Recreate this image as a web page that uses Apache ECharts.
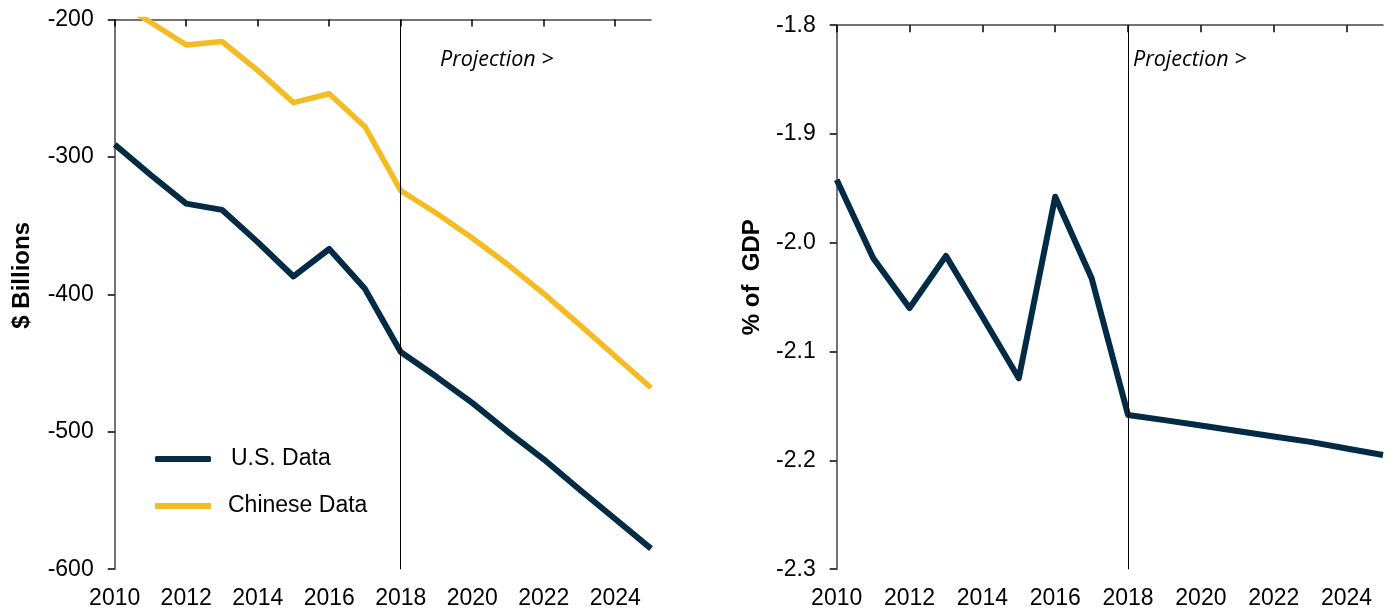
<!DOCTYPE html>
<html>
<head>
<meta charset="utf-8">
<script src="https://cdn.jsdelivr.net/npm/echarts@6/dist/echarts.min.js"></script>
<style>
html,body{margin:0;padding:0;background:#fff;}
#c{width:1395px;height:612px;}
</style>
</head>
<body>
<div id="c"></div>
<script>
// ---- data ----
var years = [2010,2011,2012,2013,2014,2015,2016,2017,2018,2019,2020,2021,2022,2023,2024,2025];
var tickYears = [2010,2012,2014,2016,2018,2020,2022,2024];
var usBillions = [-291,-313,-334,-338.5,-362,-387,-367,-396,-442,-460,-479,-500,-520,-542,-563.5,-585];
var cnBillions = [-186,-202,-218.5,-216,-237,-260.5,-254,-278,-324.5,-341,-359,-378.5,-399.5,-422,-445,-468];
var usPctGdp = [-1.942,-2.014,-2.060,-2.012,-2.068,-2.1245,-1.9576,-2.0326,-2.1583,-2.163,-2.168,-2.173,-2.178,-2.183,-2.189,-2.195];
var projectionYear = 2018;
var seriesNames = ['U.S. Data','Chinese Data'];
var leftTitle = '$ Billions';
var rightTitle = '% of  GDP';
var projectionText = 'Projection >';

function pairs(vals){ return years.map(function(y,i){ return [y, vals[i]]; }); }

var FONT = '"Liberation Sans", Arial, sans-serif';
var NAVY = '#032B45';
var GOLD = '#F4BC22';
var AXIS = '#444';

function bottomAxis(grid){
  return {
    type:'value', gridIndex:grid, position:'bottom', min:2010, max:2025, interval:2,
    axisLine:{show:false}, axisTick:{show:false}, splitLine:{show:false},
    axisLabel:{show:true, customValues:tickYears, margin:18, color:'#000', fontSize:23, fontFamily:FONT,
      formatter:function(v){return String(v);}}
  };
}
function topAxis(grid){
  return {
    type:'value', gridIndex:grid, position:'top', min:2010, max:2025, interval:2,
    axisLine:{show:true, onZero:false, lineStyle:{color:AXIS, width:1.5}},
    axisTick:{show:true, inside:true, length:7, customValues:tickYears, lineStyle:{color:'#000', width:1.5}},
    axisLabel:{show:false}, splitLine:{show:false}
  };
}
function projLine(){
  return {
    silent:true, symbol:'none', label:{show:false},
    lineStyle:{color:'#000', width:1, type:'solid'},
    emphasis:{disabled:true},
    data:[{xAxis:projectionYear}]
  };
}

var chart = echarts.init(document.getElementById('c'), null, {renderer:'canvas'});
chart.setOption({
  animation:false,
  backgroundColor:'#fff',
  grid:[
    {left:114.7, right:744, top:19.5, bottom:42.8, containLabel:false},
    {left:836.7, right:12, top:25.2, bottom:42.8, containLabel:false}
  ],
  xAxis:[bottomAxis(0), topAxis(0), bottomAxis(1), topAxis(1)],
  yAxis:[
    {type:'value', gridIndex:0, min:-600, max:-200, interval:100, position:'left',
     name:leftTitle, nameLocation:'middle', nameGap:80, nameRotate:90,
     nameTextStyle:{fontFamily:FONT, fontSize:24, fontWeight:'bold', color:'#000', padding:[0,0,0,38]},
     axisLine:{show:true, onZero:false, lineStyle:{color:AXIS, width:1.5}},
     axisTick:{show:true, length:7, lineStyle:{color:'#000', width:1.5}},
     axisLabel:{margin:21, color:'#000', fontSize:23, fontFamily:FONT},
     splitLine:{show:false}},
    {type:'value', gridIndex:1, min:-2.3, max:-1.8, interval:0.1, position:'left',
     name:rightTitle, nameLocation:'middle', nameGap:72, nameRotate:90,
     nameTextStyle:{fontFamily:FONT, fontSize:24, fontWeight:'bold', color:'#000', padding:[0,0,0,40]},
     axisLine:{show:true, onZero:false, lineStyle:{color:AXIS, width:1.5}},
     axisTick:{show:true, length:7, lineStyle:{color:'#000', width:1.5}},
     axisLabel:{margin:21, color:'#000', fontSize:23, fontFamily:FONT,
       formatter:function(v){return v.toFixed(1);}},
     splitLine:{show:false}}
  ],
  legend:[
    {data:[seriesNames[0]], left:155, top:447.5, padding:0, orient:'vertical',
     itemWidth:56, itemHeight:6, icon:'roundRect', selectedMode:false,
     textStyle:{fontFamily:FONT, fontSize:23, color:'#000', padding:[0,0,0,15]}},
    {data:[seriesNames[1]], left:155, top:494.5, padding:0, orient:'vertical',
     itemWidth:56, itemHeight:6, icon:'rect', selectedMode:false,
     textStyle:{fontFamily:FONT, fontSize:23, color:'#000', padding:[0,0,0,12]}}
  ],
  graphic:[
    {type:'text', left:440, top:49, silent:true,
     style:{text:projectionText, font:'italic 21.5px "Open Sans", sans-serif', fill:'#000'}},
    {type:'text', left:1133, top:49, silent:true,
     style:{text:projectionText, font:'italic 21.5px "Open Sans", sans-serif', fill:'#000'}}
  ],
  series:[
    {name:seriesNames[0], type:'line', xAxisIndex:0, yAxisIndex:0, data:pairs(usBillions),
     symbol:'none', clip:true, color:NAVY, z:3,
     lineStyle:{color:NAVY, width:6, join:'round', cap:'butt'},
     markLine:projLine()},
    {name:seriesNames[1], type:'line', xAxisIndex:0, yAxisIndex:0, data:pairs(cnBillions),
     symbol:'none', clip:true, color:GOLD, z:2,
     lineStyle:{color:GOLD, width:5.5, join:'round', cap:'butt'}},
    {name:'US % of GDP', type:'line', xAxisIndex:2, yAxisIndex:1, data:pairs(usPctGdp),
     symbol:'none', clip:true, color:NAVY, z:3,
     lineStyle:{color:NAVY, width:6, join:'round', cap:'butt'},
     markLine:projLine()}
  ]
});
</script>
</body>
</html>
